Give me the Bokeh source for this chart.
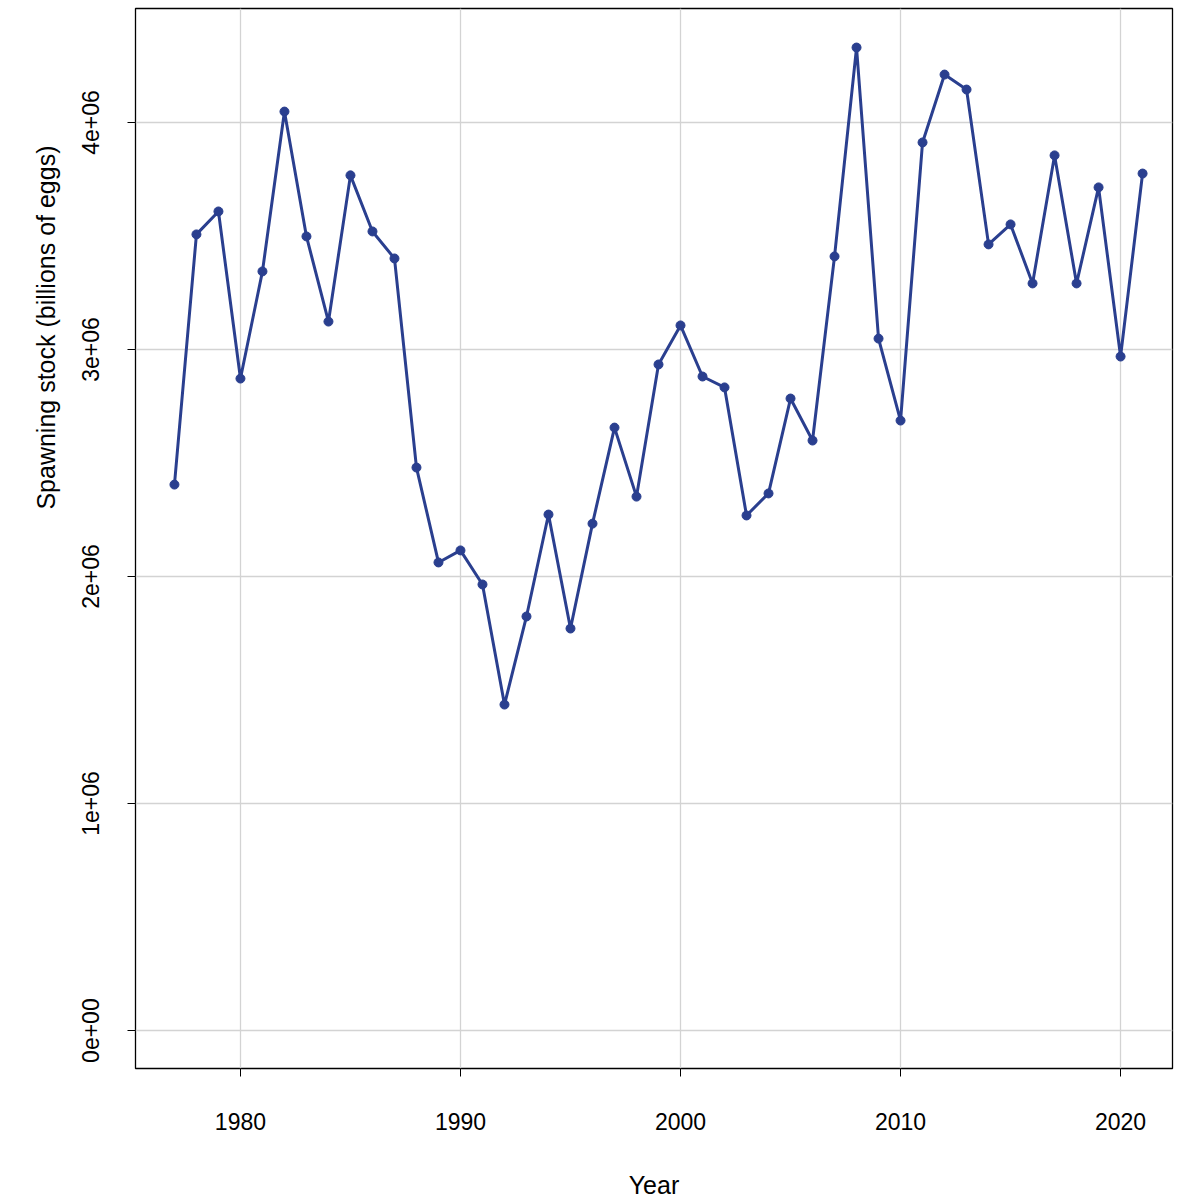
from bokeh.plotting import figure
from bokeh.models import Range1d, FixedTicker, Title
from bokeh.embed import file_html
from bokeh.resources import INLINE

years = list(range(1977, 2022))
stock = [2.405, 3.507, 3.608, 2.872, 3.344, 4.048, 3.498, 3.123, 3.767, 3.520,
         3.401, 2.480, 2.062, 2.115, 1.965, 1.436, 1.824, 2.273, 1.771, 2.233,
         2.656, 2.352, 2.934, 3.106, 2.881, 2.833, 2.269, 2.366, 2.784, 2.599,
         3.410, 4.330, 3.048, 2.687, 3.912, 4.211, 4.145, 3.463, 3.551, 3.291,
         3.855, 3.291, 3.714, 2.969, 3.775]
stock = [v * 1e6 for v in stock]

x_ticks = [1980, 1990, 2000, 2010, 2020]
y_ticks = [0, 1e6, 2e6, 3e6, 4e6]
y_labels = ["0e+00", "1e+06", "2e+06", "3e+06", "4e+06"]

COLOR = "#2a3f8f"
FONT = "Liberation Sans"

p = figure(frame_width=1037, frame_height=1060,
           min_border_left=135, min_border_top=8, min_border_right=2,
           min_border_bottom=116,
           x_range=Range1d(1975.23, 2022.36), y_range=Range1d(-0.167e6, 4.502e6),
           output_backend="svg", toolbar_location=None)

p.xaxis.axis_label = "Year"
p.xaxis.ticker = FixedTicker(ticks=x_ticks)
p.yaxis.ticker = FixedTicker(ticks=y_ticks)
p.yaxis.major_label_overrides = {t: l for t, l in zip(y_ticks, y_labels)}
p.yaxis.major_label_orientation = "vertical"

for ax in (p.xaxis, p.yaxis):
    ax.axis_line_color = None
    ax.minor_tick_line_color = None
    ax.major_tick_out = 8
    ax.major_tick_in = 0
    ax.major_tick_line_color = "black"
    ax.major_label_text_font = FONT
    ax.major_label_text_font_size = "23px"
    ax.major_label_text_color = "black"
    ax.axis_label_text_font = FONT
    ax.axis_label_text_font_size = "25px"
    ax.axis_label_text_font_style = "normal"
    ax.axis_label_text_color = "black"
p.xaxis.axis_label_standoff = 38
p.xaxis.major_label_standoff = 36
p.yaxis.major_label_standoff = 28

# y title sits above the frame centre in the original
ytitle = Title(text="Spawning stock (billions of eggs)", align="right", offset=137,
               text_font=FONT, text_font_size="25px", text_font_style="normal",
               text_color="black", standoff=40)
p.add_layout(ytitle, "left")

p.grid.grid_line_color = "#d3d3d3"
p.grid.grid_line_width = 1.3
p.outline_line_color = "black"
p.outline_line_width = 1.3

p.line(years, stock, line_color=COLOR, line_width=3)
p.scatter(years, stock, size=9, fill_color=COLOR, line_color=COLOR)

open("out.html", "w").write(file_html(p, INLINE))
